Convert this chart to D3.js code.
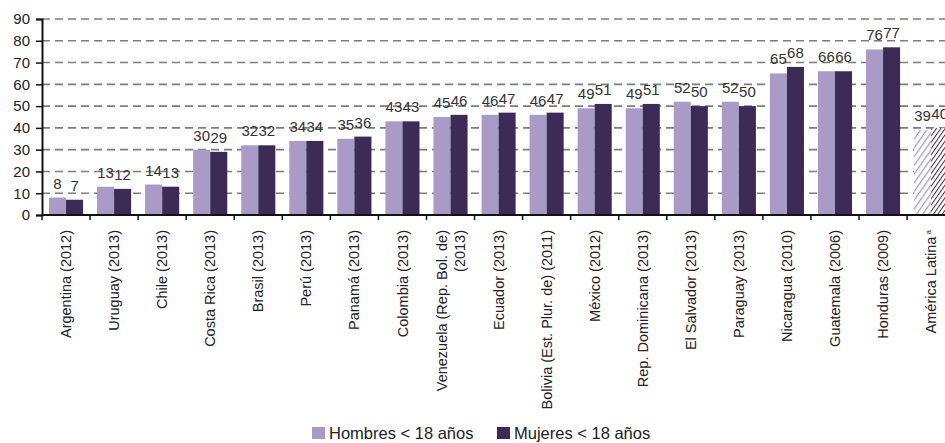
<!DOCTYPE html>
<html>
<head>
<meta charset="utf-8">
<script src="https://cdn.jsdelivr.net/npm/d3@7"></script>
<style>
  body { margin: 0; background: #fff; }
  svg { display: block; font-family: "Liberation Sans", Arial, sans-serif; }
  .grid line { stroke: #7d7d7d; stroke-dasharray: 8 5; stroke-width: 1.6; }
  .val { font-size: 15px; fill: #333; text-anchor: middle; }
  .xlab { font-size: 14.5px; fill: #222; }
  .ylab { font-size: 15px; fill: #222; }
  .leg { font-size: 16.5px; fill: #222; }
</style>
</head>
<body>
<div id="chart"></div>
<script>
// Hombres / Mujeres < 18 años, by country
var categories = [
    ["Argentina (2012)"], ["Uruguay (2013)"], ["Chile (2013)"], ["Costa Rica (2013)"],
    ["Brasil (2013)"], ["Perú (2013)"], ["Panamá (2013)"], ["Colombia (2013)"],
    ["Venezuela (Rep. Bol. de)", "(2013)"], ["Ecuador (2013)"], ["Bolivia (Est. Plur. de)  (2011)"],
    ["México (2012)"], ["Rep. Dominicana (2013)"], ["El Salvador (2013)"], ["Paraguay (2013)"],
    ["Nicaragua (2010)"], ["Guatemala (2006)"], ["Honduras (2009)"], ["América Latina"]
];
var hombres = [8, 13, 14, 30, 32, 34, 35, 43, 45, 46, 46, 49, 49, 52, 52, 65, 66, 76, 39];
var mujeres = [7, 12, 13, 29, 32, 34, 36, 43, 46, 47, 47, 51, 51, 50, 50, 68, 66, 77, 40];
var yTicks = [0, 10, 20, 30, 40, 50, 60, 70, 80, 90];
var seriesNames = ["Hombres < 18 años", "Mujeres < 18 años"];
var colors = ["#a99bc8", "#3c2b54"];

drawChart();

function drawChart() {
    var width = 945, height = 443;
    var mLeft = 42, mBottom = 215, mTop = 19;
    var bandW = 48.06;

    var svg = d3.select("#chart").append("svg")
        .attr("width", width)
        .attr("height", height);

    // hatch patterns for the regional average
    var defs = svg.append("defs");
    function hatch(id, color, gap, sw) {
        var p = defs.append("pattern")
            .attr("id", id)
            .attr("patternUnits", "userSpaceOnUse")
            .attr("width", gap).attr("height", gap)
            .attr("patternTransform", "rotate(35)");
        p.append("rect").attr("width", gap).attr("height", gap).attr("fill", "#fff");
        p.append("line").attr("x1", 0).attr("y1", 0).attr("x2", 0).attr("y2", gap)
            .attr("stroke", color).attr("stroke-width", sw);
    }
    hatch("hatchH", colors[0], 5, 2.6);
    hatch("hatchM", colors[1], 3.6, 2);

    var x = d3.scaleBand()
        .domain(d3.range(categories.length))
        .range([mLeft, mLeft + bandW * categories.length]);

    var xSub = d3.scaleBand()
        .domain([0, 1])
        .range([0, bandW])
        .paddingOuter(0.41);

    var y = d3.scaleLinear().domain([0, 90]).range([mBottom, mTop]);

    // gridlines
    svg.append("g").attr("class", "grid")
        .selectAll("line")
        .data(yTicks.filter(function(d) { return d > 0; }))
        .enter().append("line")
        .attr("x1", mLeft).attr("x2", width)
        .attr("y1", function(d) { return y(d); })
        .attr("y2", function(d) { return y(d); });

    // bars
    var groups = svg.selectAll(".cat")
        .data(categories)
        .enter().append("g")
        .attr("class", "cat")
        .attr("transform", function(d, i) { return "translate(" + x(i) + ",0)"; });

    var last = categories.length - 1;
    [hombres, mujeres].forEach(function(series, s) {
        groups.append("rect")
            .attr("x", xSub(s))
            .attr("width", xSub.bandwidth())
            .attr("y", function(d, i) { return y(series[i]); })
            .attr("height", function(d, i) { return y(0) - y(series[i]); })
            .attr("fill", function(d, i) {
                if (i === last) return s === 0 ? "url(#hatchH)" : "url(#hatchM)";
                return colors[s];
            });

        groups.append("text")
            .attr("class", "val")
            .attr("x", xSub(s) + xSub.bandwidth() / 2)
            .attr("y", function(d, i) { return y(series[i]) - 9; })
            .text(function(d, i) { return series[i]; });
    });

    // y axis
    var yAxis = d3.axisLeft(y).tickValues(yTicks).tickSize(6).tickPadding(6);
    var gy = svg.append("g").attr("transform", "translate(" + mLeft + ",0)").call(yAxis);
    gy.attr("font-family", null).attr("font-size", null);
    gy.select(".domain").attr("stroke", "#111").attr("stroke-width", 2);
    gy.selectAll(".tick line").attr("stroke", "#111").attr("stroke-width", 1.5);
    gy.selectAll(".tick text").attr("class", "ylab");

    // x axis line and ticks between categories
    svg.append("line")
        .attr("x1", mLeft).attr("x2", width)
        .attr("y1", mBottom).attr("y2", mBottom)
        .attr("stroke", "#111").attr("stroke-width", 2);
    svg.selectAll(".xtick")
        .data(d3.range(categories.length + 1))
        .enter().append("line")
        .attr("class", "xtick")
        .attr("x1", function(i) { return x(0) + i * x.step(); })
        .attr("x2", function(i) { return x(0) + i * x.step(); })
        .attr("y1", mBottom).attr("y2", mBottom + 5)
        .attr("stroke", "#111").attr("stroke-width", 1.5);

    // rotated category labels
    var xl = groups.append("text")
        .attr("class", "xlab")
        .attr("transform", "translate(" + (bandW / 2) + "," + (mBottom + 15) + ") rotate(-90)")
        .attr("text-anchor", "end");
    xl.each(function(d, i) {
        var t = d3.select(this);
        var n = d.length;
        d.forEach(function(line, k) {
            t.append("tspan")
                .attr("x", 0)
                .attr("y", (k - (n - 1) / 2) * 18)
                .attr("dy", "0.35em")
                .text(line);
        });
        if (i === last) {
            t.append("tspan").attr("font-size", "8px").attr("dy", "-0.7em").text(" a");
        }
    });

    // legend
    var legend = svg.append("g").attr("transform", "translate(312,433)");
    seriesNames.forEach(function(name, i) {
        var lx = i * 185;
        legend.append("rect")
            .attr("x", lx).attr("y", -6).attr("width", 13).attr("height", 12)
            .attr("fill", colors[i]);
        legend.append("text")
            .attr("class", "leg")
            .attr("x", lx + 17).attr("y", 0).attr("dy", "0.35em")
            .text(name);
    });
}
</script>
</body>
</html>
